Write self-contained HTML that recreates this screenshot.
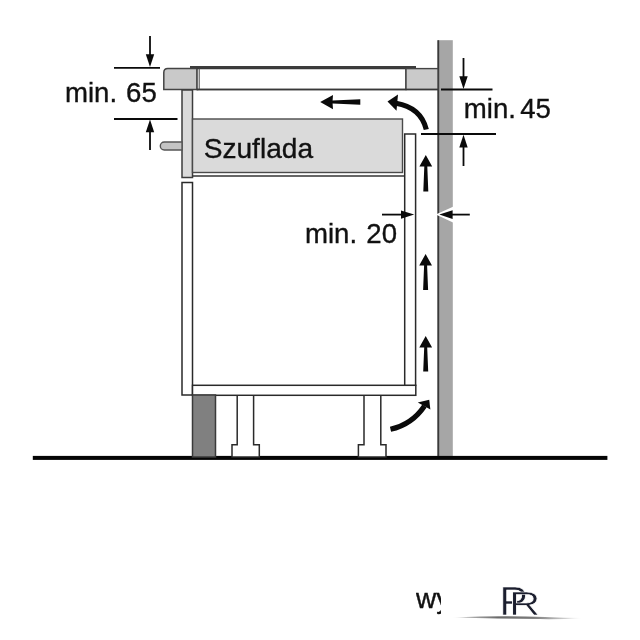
<!DOCTYPE html>
<html><head><meta charset="utf-8">
<style>
html,body{margin:0;padding:0;background:#fff;}
body{width:640px;height:640px;overflow:hidden;position:relative;font-family:"Liberation Sans",sans-serif;}
svg{position:absolute;left:0;top:0;display:block;will-change:transform;}
text{font-family:"Liberation Sans",sans-serif;fill:#111;stroke:#111;stroke-width:0.35px;}
</style></head><body>
<svg width="640" height="640" viewBox="0 0 640 640">
<!-- wall -->
<rect x="438" y="40.2" width="14.8" height="417.5" fill="#a6a6a6"/>
<rect x="437.3" y="40.2" width="1.9" height="417.5" fill="#3a3a3a"/>
<!-- floor -->
<rect x="32.8" y="455.9" width="574.6" height="4" fill="#050505"/>

<!-- worktop left -->
<path d="M163.8 89.5 V72.5 Q163.8 68.5 167.8 68.5 H197.5 V89.5 Z" fill="#c9c9c9" stroke="#444" stroke-width="1.5"/>
<!-- hob -->
<rect x="197" y="68.5" width="209" height="21" fill="#fff" stroke="#383838" stroke-width="1.5"/>
<line x1="199.2" y1="68" x2="199.2" y2="89" stroke="#444" stroke-width="1"/>
<rect x="190" y="66" width="226" height="2.2" fill="#3c3c3c"/>
<!-- worktop right -->
<rect x="406" y="68.6" width="32" height="20.9" fill="#cacaca" stroke="#444" stroke-width="1.4"/>
<line x1="197" y1="89.5" x2="438" y2="89.5" stroke="#383838" stroke-width="1.5"/>

<!-- side panel -->
<rect x="182" y="90" width="10.5" height="87.5" fill="#dadada" stroke="#3c3c3c" stroke-width="1.5"/>
<!-- handle -->
<path d="M182 142 H164.3 A4 4 0 0 0 164.3 150 H182 Z" fill="#c4c4c4" stroke="#555" stroke-width="1.4"/>
<!-- drawer -->
<rect x="192.5" y="119" width="210" height="53.5" fill="#dadada" stroke="#4a4a4a" stroke-width="1.4"/>
<line x1="192.5" y1="176" x2="404.7" y2="176" stroke="#333" stroke-width="1.5"/>

<!-- door -->
<rect x="182" y="182.5" width="10.5" height="212.5" fill="#fff" stroke="#2a2a2a" stroke-width="1.5"/>
<!-- bottom shelf -->
<rect x="192.5" y="385.3" width="223.3" height="10" fill="#fff" stroke="#2a2a2a" stroke-width="1.5"/>
<!-- back panel -->
<path d="M404.7 385.3 V134 H415.6 V385.3 Z" fill="#fff" stroke="#2a2a2a" stroke-width="1.5"/>

<!-- plinth -->
<rect x="192.5" y="395" width="23" height="62" fill="#808080" stroke="#3a3a3a" stroke-width="1.5"/>
<!-- legs -->
<path d="M237.2 395.9 V444.8 H232 V457 H259.3 V444.8 H253.6 V395.9" fill="#fff" stroke="#2a2a2a" stroke-width="1.5"/>
<path d="M364 395.9 V444.8 H358.4 V457 H386 V444.8 H380.8 V395.9" fill="#fff" stroke="#2a2a2a" stroke-width="1.5"/>

<!-- dim min 65 -->
<g stroke="#0a0a0a" stroke-width="1.8" fill="#0a0a0a">
<line x1="114" y1="67.8" x2="160" y2="67.8"/>
<line x1="114" y1="119" x2="177.5" y2="119"/>
<line x1="150" y1="36" x2="150" y2="57"/>
<path d="M150 67 L145.8 54.2 H154.2 Z" stroke="none"/>
<line x1="150" y1="130" x2="150" y2="150"/>
<path d="M150 119.5 L145.8 132.3 H154.2 Z" stroke="none"/>
<!-- dim min 45 -->
<line x1="441" y1="89.5" x2="492.500" y2="89.500"/>
<line x1="421" y1="134" x2="496" y2="134"/>
<line x1="463.5" y1="58" x2="463.5" y2="79"/>
<path d="M463.5 89 L459.3 76.2 H467.7 Z" stroke="none"/>
<line x1="463.500" y1="146" x2="463.500" y2="166"/>
<path d="M463.5 134.8 L459.3 147.6 H467.7 Z" stroke="none"/>
<!-- dim min 20 -->
<line x1="382" y1="214.600" x2="404" y2="214.600"/>
<path d="M414.200 214.600 L401 210.400 V218.800 Z" stroke="none"/>
<path d="M435.800 214.600 L453 206.800 V222.400 Z" fill="#fff" stroke="none"/>
<line x1="450" y1="214.600" x2="469.800" y2="214.600"/>
<path d="M439.300 214.600 L452.600 210.200 V219 Z" stroke="none"/>
</g>

<!-- flow arrows -->
<g fill="#0a0a0a">
<path d="M425.8 155 L432.2 166.4 H427.3 L428.3 191.4 H423.3 L424.3 166.4 H419.4 Z"/>
<path d="M425.6 254 L432.0 265.4 H427.1 L428.1 290 H423.1 L424.1 265.4 H419.2 Z"/>
<path d="M425.7 336 L432.1 347.4 H427.2 L428.2 371.5 H423.2 L424.2 347.4 H419.3 Z"/>
<path d="M320.2 102 L333 95 L332.6 100.6 L360.3 99.3 V104.8 L332.6 103.5 L333 109.2 Z"/>
</g>
<path d="M426.3 129.5 Q421 107.5 396 103.2" fill="none" stroke="#0a0a0a" stroke-width="5.2"/>
<path d="M387.5 101.5 L398 94.5 L396.5 110.8 Z" fill="#0a0a0a"/>
<path d="M390.5 429.3 Q412 424.5 424.5 406" fill="none" stroke="#0a0a0a" stroke-width="5.2"/>
<path d="M429.2 399.8 L417.8 402.6 L430.4 409.6 Z" fill="#0a0a0a"/>

<!-- text -->
<text x="65" y="102.4" font-size="27.6">min. <tspan dx="1.3">65</tspan></text>
<text x="203.7" y="157.6" font-size="28.1">Szuflada</text>
<text x="463.8" y="118.4" font-size="27.6">min.<tspan x="520.2">45</tspan></text>
<text x="305" y="243.3" font-size="27.6">min. <tspan dx="1.5">20</tspan></text>
</svg>
<div style="position:absolute;left:415.5px;top:579px;width:24.5px;height:40px;will-change:transform;overflow:hidden;white-space:nowrap;font-size:28px;line-height:40px;color:#111;-webkit-text-stroke:0.4px #111;">wymiary</div>
<svg width="640" height="640" viewBox="0 0 640 640" style="pointer-events:none">
<defs>
<linearGradient id="sw2" x1="0" x2="1" y1="0" y2="0">
<stop offset="0" stop-color="#fff"/><stop offset="0.12" stop-color="#b5b5b5"/><stop offset="0.35" stop-color="#6a6a6a"/><stop offset="0.62" stop-color="#7a7a7a"/><stop offset="0.8" stop-color="#b8b8b8"/><stop offset="1" stop-color="#fff"/>
</linearGradient>
</defs>
<path d="M452 617.5 Q500 615.4 545 616.9 Q565 617.7 583 618 Q560 619.5 540 619.1 Q500 618.6 452 617.5 Z" fill="url(#sw2)"/>
<text x="0" y="0" font-size="39.8" transform="translate(499.3,615.1) scale(1.08,1)" style="fill:#1b1e2e;stroke:#fff;stroke-width:0.7px">P</text>
<text x="0" y="0" font-size="33.2" transform="translate(509.1,615.1) scale(1.31,1)" style="fill:#1b1e2e;stroke:#fff;stroke-width:0.7px">R</text>
</svg>
</body></html>
